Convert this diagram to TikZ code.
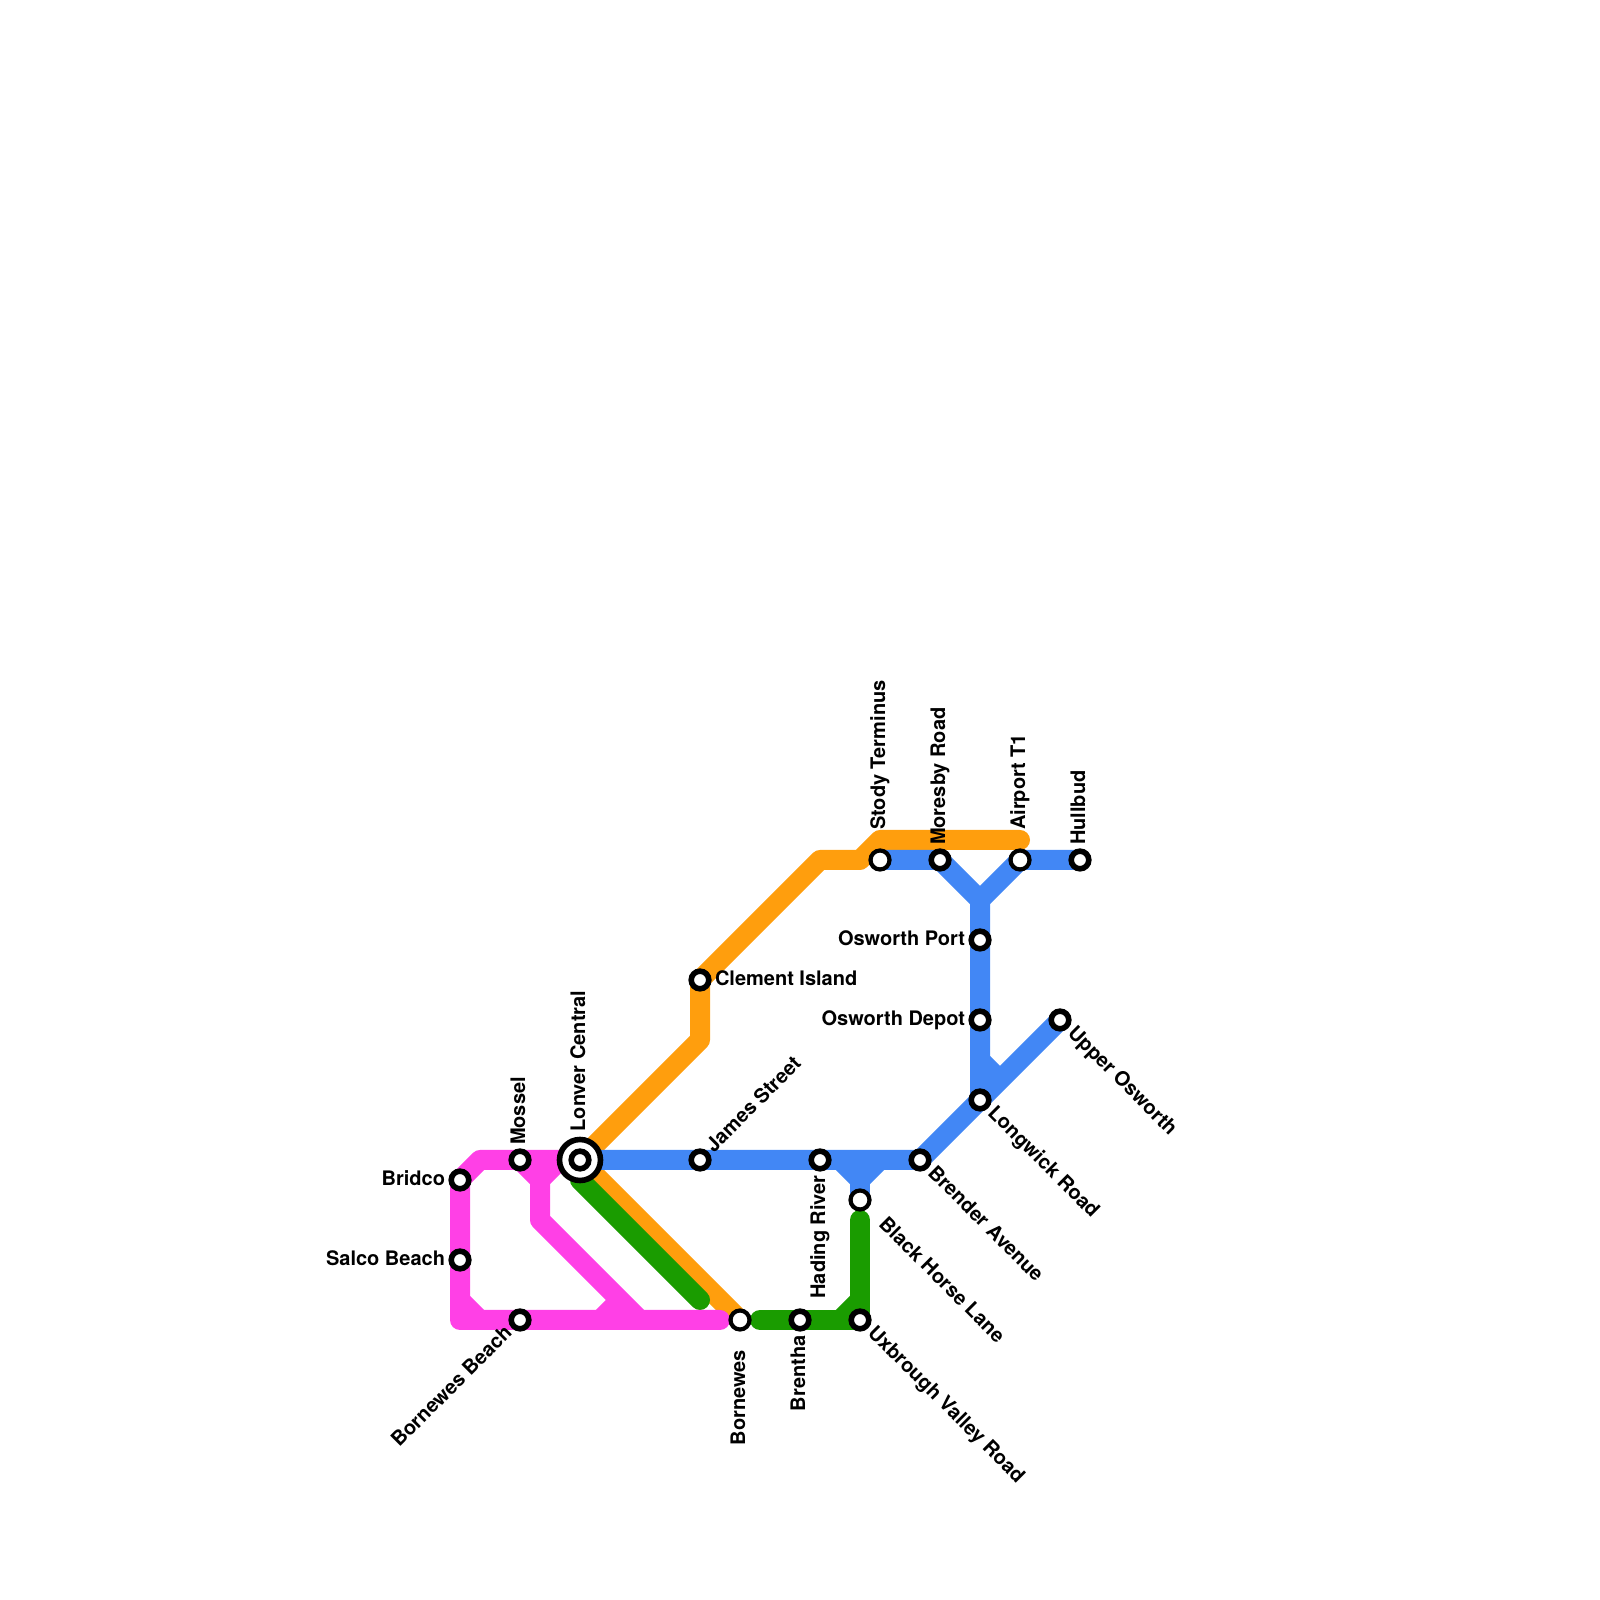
\documentclass[tikz,border=0pt]{standalone}
\usepackage{fontspec}
\setmainfont{TeX Gyre Heros}
\usepackage{tikz}
\usetikzlibrary{positioning, backgrounds}

\definecolor{lineblue}{HTML}{4287F5}
\definecolor{linepink}{HTML}{FF40E6}
\definecolor{lineorange}{HTML}{FF9E0D}
\definecolor{linegreen}{HTML}{1A9C00}

\tikzset{
  stn/.style={circle, draw=black, fill=white, line width=2.8pt, minimum size=8.8pt, inner sep=0pt},
  stnopen/.style={circle, draw=black, fill=white, line width=2.1pt, minimum size=9.5pt, inner sep=0pt},
  hub/.style={circle, draw=black, fill=white, line width=2.8pt, minimum size=20.5pt, inner sep=0pt},
  lbl/.style={font=\fontsize{10pt}{12pt}\bfseries, inner sep=0pt, text height=7.2pt, text depth=2.1pt},
  lblleft/.style={lbl, anchor=east},
  lblright/.style={lbl, anchor=west},
  lblup/.style={lbl, rotate=90, anchor=west},
  lbldown/.style={lbl, rotate=90, anchor=east},
  lblne/.style={lbl, rotate=45, anchor=west},
  lblsw/.style={lbl, rotate=45, anchor=east},
  lblse/.style={lbl, rotate=-45, anchor=west},
  metro/.style={line width=10pt, line join=round},
  metroend/.style={metro, line cap=round},
}

\begin{document}
\begin{tikzpicture}[x=0.5pt, y=0.5pt]
  \useasboundingbox (0,0) rectangle (1600,1600);

  % stations
  \node[hub] (lonverhub) at (580,440) {};
  \node[stn] (lonver) at (580,440) {};
  \node[stn] (bridco) at (460,420) {};
  \node[stn] (salco) at (460,340) {};
  \node[stn] (mossel) at (520,440) {};
  \node[stn] (bbeach) at (520,280) {};
  \node[stn] (james) at (700,440) {};
  \node[stn] (hading) at (820,440) {};
  \node[stn] (brender) at (920,440) {};
  \node[stnopen] (blackhorse) at (860,400) {};
  \node[stn] (uxbrough) at (860,280) {};
  \node[stn] (brentha) at (800,280) {};
  \node[stnopen] (bornewes) at (740,280) {};
  \node[stn] (clement) at (700,620) {};
  \node[stnopen] (stody) at (880,740) {};
  \node[stn] (moresby) at (940,740) {};
  \node[stnopen] (airport) at (1020,740) {};
  \node[stn] (hullbud) at (1080,740) {};
  \node[stn] (oport) at (980,660) {};
  \node[stn] (odepot) at (980,580) {};
  \node[stn] (longwick) at (980,500) {};
  \node[stn] (upper) at (1060,580) {};

  % labels
  \node[left=1.5pt of bridco, lblleft] (bridcot) {Bridco};
  \node[left=1.5pt of salco, lblleft] (salcot) {Salco Beach};
  \node[left=1.5pt of oport, lblleft] (oportt) {Osworth Port};
  \node[left=1.5pt of odepot, lblleft] (odepott) {Osworth Depot};
  \node[right=1.5pt of clement, lblright] (clementt) {Clement Island};
  \node[above=1.5pt of mossel, lblup] (mosselt) {Mossel};
  \node[above=2.5pt of lonverhub, lblup] (lonvert) {Lonver Central};
  \node[above=9pt of stody, lblup] (stodyt) {Stody Terminus};
  \node[above=1.5pt of moresby, lblup] (moresbyt) {Moresby Road};
  \node[above=9pt of airport, lblup] (airportt) {Airport T1};
  \node[above=1.5pt of hullbud, lblup] (hullbudt) {Hullbud};
  \node[below=1.7pt of hading, lbldown] (hadingt) {Hading River};
  \node[below=9pt of bornewes, lbldown] (bornewest) {Bornewes};
  \node[below=1.7pt of brentha, lbldown] (brenthat) {Brentha};
  \node[above right=1pt and 1pt of james, lblne] (jamest) {James Street};
  \node[below left=1pt and 1pt of bbeach, lblsw] (bbeacht) {Bornewes Beach};
  \node[below right=1pt and 1pt of brender, lblse] (brendert) {Brender Avenue};
  \node[below right=6.5pt and 6.5pt of blackhorse, lblse] (blackhorset) {Black Horse Lane};
  \node[below right=1pt and 1pt of uxbrough, lblse] (uxbrought) {Uxbrough Valley Road};
  \node[below right=1pt and 1pt of longwick, lblse] (longwickt) {Longwick Road};
  \node[below right=1pt and 1pt of upper, lblse] (uppert) {Upper Osworth};

  % lines
  \begin{scope}[on background layer]
    \coordinate (orangetop) at (880,760);
    \coordinate (orangeend) at (1020,760);
    \coordinate (bluey) at (980,700);
    \coordinate (bluet) at (860,420);
    \coordinate (pinkfork) at (540,420);
    \coordinate (pinkend) at (720,280);
    \coordinate (pinkcorner) at (460,280);

    \draw[metroend, lineorange] (lonver.center) -- (700,560) -- (clement.center) -- (820,740) -- (860,740) -- (orangetop) -- (orangeend);
    \draw[metro, lineorange] (lonver.center) -- (bornewes.center);

    \draw[metroend, linegreen] (580,420) -- (700,300);
    \draw[metroend, linegreen] (760,280) -- (uxbrough.center) -- (860,380);
    \draw[metro, linegreen] (840,280) -- (860,300);

    \draw[metro, lineblue] (lonver.center) -- (brender.center) -- (upper.center);
    \draw[metro, lineblue] (840,440) -- (bluet) -- (880,440);
    \draw[metro, lineblue] (bluet) -- (blackhorse.center);
    \draw[metro, lineblue] (stody.center) -- (moresby.center) -- (bluey) -- (longwick.center);
    \draw[metro, lineblue] (hullbud.center) -- (airport.center) -- (bluey);
    \draw[metro, lineblue] (980,540) -- (1000,520);

    \draw[metroend, linepink] (lonver.center) -- (480,440) -- (bridco.center) -- (pinkcorner) -- (pinkend);
    \draw[metro, linepink] (460,300) -- (480,280);
    \draw[metro, linepink] (mossel.center) -- (pinkfork) -- (540,380) -- (640,280);
    \draw[metro, linepink] (560,440) -- (pinkfork);
    \draw[metro, linepink] (600,280) -- (620,300);
  \end{scope}
\end{tikzpicture}
\end{document}
